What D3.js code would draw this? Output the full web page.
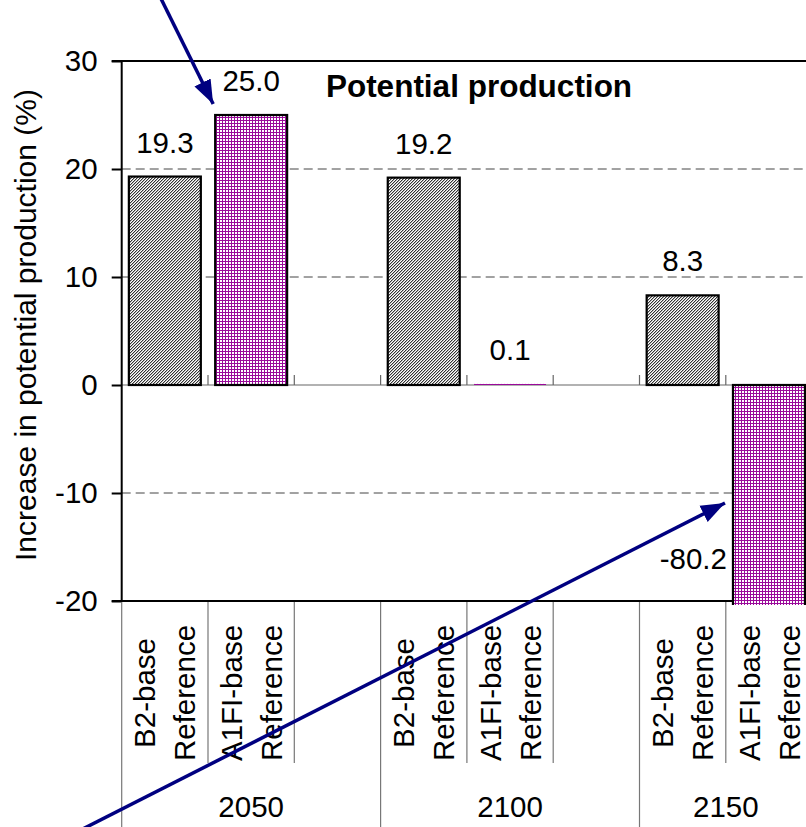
<!DOCTYPE html>
<html>
<head>
<meta charset="utf-8">
<script src="https://cdn.jsdelivr.net/npm/d3@7/dist/d3.min.js"></script>
<style>
  html, body { margin: 0; padding: 0; background: #fff; }
  svg { display: block; font-family: "Liberation Sans", Arial, sans-serif; }
</style>
</head>
<body>
<svg id="chart" width="806" height="827"></svg>
<script>
// Scenario results by year (percent change in potential production)
const years = ["2050", "2100", "2150"];
const scenarios = ["B2-base", "A1FI-base"];
const secondLine = "Reference";
const b2Values = [19.3, 19.2, 8.3];
const a1fiValues = [25.0, 0.1, -80.2];
const valueLabels = ["19.3", "19.2", "8.3", "25.0", "0.1", "-80.2"];
const yTicks = [-20, -10, 0, 10, 20, 30];
const chartTitle = "Potential production";
const yTitle = "Increase in potential production (%)";

// Each year holds two scenario slots; the first two years are followed by a spacer slot
const slots = [];
years.forEach((yr, gi) => {
  scenarios.forEach((sc, si) => {
    const v = si === 0 ? b2Values[gi] : a1fiValues[gi];
    const lbl = si === 0 ? valueLabels[gi] : valueLabels[3 + gi];
    slots.push({ id: yr + "|" + sc, year: yr, scenario: sc, value: v, label: lbl, kind: si });
  });
  if (gi < years.length - 1) slots.push({ id: yr + "|gap", year: yr, scenario: null });
});

const svg = d3.select("#chart");
const plot = { left: 121.7, top: 61, bottom: 601, step: 86.3 };
plot.right = plot.left + slots.length * plot.step;

const x = d3.scaleBand()
  .domain(slots.map(d => d.id))
  .range([plot.left, plot.right])
  .paddingInner(0.166)
  .paddingOuter(0.083);

const y = d3.scaleLinear().domain([-20, 30]).range([plot.bottom, plot.top]);

const slotLeft = i => plot.left + i * plot.step;

// Fill patterns
const defs = svg.append("defs");
const hatch = defs.append("pattern").attr("id", "hatchB2")
  .attr("patternUnits", "userSpaceOnUse").attr("width", 3).attr("height", 3);
hatch.append("rect").attr("width", 3).attr("height", 3).attr("fill", "#ffffff");
[[2,0],[1,1],[0,2]].forEach(([px, py]) =>
  hatch.append("rect").attr("x", px).attr("y", py).attr("width", 1).attr("height", 1).attr("fill", "#333333"));
[[0,0],[2,1],[1,2]].forEach(([px, py]) =>
  hatch.append("rect").attr("x", px).attr("y", py).attr("width", 1).attr("height", 1).attr("fill", "#b4b4b4"));

const grid = defs.append("pattern").attr("id", "gridA1FI")
  .attr("patternUnits", "userSpaceOnUse").attr("width", 3).attr("height", 3);
grid.append("rect").attr("width", 3).attr("height", 3).attr("fill", "#ffffff");
grid.append("rect").attr("width", 3).attr("height", 1).attr("fill", "#9a0a9a");
grid.append("rect").attr("width", 1).attr("height", 3).attr("fill", "#9a0a9a");

defs.append("clipPath").attr("id", "plotClip")
  .append("rect").attr("x", plot.left).attr("y", plot.top)
  .attr("width", plot.right - plot.left).attr("height", plot.bottom - plot.top + 4);

defs.append("marker").attr("id", "arrowHead")
  .attr("markerUnits", "userSpaceOnUse")
  .attr("markerWidth", 26).attr("markerHeight", 20)
  .attr("refX", 24).attr("refY", 10).attr("orient", "auto")
  .append("path").attr("d", "M0,1 L24,10 L0,19 Z").attr("fill", "#000080");

// Dashed gridlines
svg.append("g").selectAll("line")
  .data(yTicks.filter(t => t !== 0 && t !== -20 && t !== 30))
  .join("line")
  .attr("x1", plot.left).attr("x2", plot.right)
  .attr("y1", d => y(d)).attr("y2", d => y(d))
  .attr("stroke", "#444").attr("stroke-width", 1)
  .attr("stroke-dasharray", "9,5");

// Plot frame: top and bottom
svg.append("line").attr("x1", plot.left - 10).attr("x2", plot.right)
  .attr("y1", y(30)).attr("y2", y(30)).attr("stroke", "#000").attr("stroke-width", 2);
svg.append("line").attr("x1", plot.left - 10).attr("x2", plot.right)
  .attr("y1", y(-20)).attr("y2", y(-20)).attr("stroke", "#000").attr("stroke-width", 2);

// Zero line with slot tick marks
svg.append("line").attr("x1", plot.left).attr("x2", plot.right)
  .attr("y1", y(0)).attr("y2", y(0)).attr("stroke", "#666").attr("stroke-width", 1.2);
svg.append("g").selectAll("line").data(d3.range(1, slots.length + 1))
  .join("line")
  .attr("x1", i => slotLeft(i)).attr("x2", i => slotLeft(i))
  .attr("y1", y(0) - 10).attr("y2", y(0))
  .attr("stroke", "#666").attr("stroke-width", 1.2);

// Bars (a bar thinner than its outline is drawn without one)
const bars = slots.filter(d => d.scenario);
svg.append("g").attr("clip-path", "url(#plotClip)")
  .selectAll("rect").data(bars).join("rect")
  .attr("x", d => x(d.id))
  .attr("width", x.bandwidth())
  .attr("y", d => y(Math.max(0, d.value)))
  .attr("height", d => Math.abs(y(d.value) - y(0)))
  .attr("fill", d => d.kind === 0 ? "url(#hatchB2)" : "url(#gridA1FI)")
  .attr("stroke", d => Math.abs(y(d.value) - y(0)) < 3 ? "none" : "#000")
  .attr("stroke-width", 2.2);

// Y axis
const yAxis = svg.append("g").attr("transform", `translate(${plot.left},0)`)
  .call(d3.axisLeft(y).tickValues(yTicks).tickSize(10).tickPadding(14).tickFormat(d => String(d)));
yAxis.select(".domain").attr("stroke", "#000").attr("stroke-width", 2)
  .attr("d", `M0,${plot.top}V${plot.bottom}`);
yAxis.selectAll(".tick line").attr("stroke", "#000").attr("stroke-width", 2);
yAxis.selectAll(".tick text").attr("fill", "#000")
  .style("font-size", "29.5px").style("font-family", "'Liberation Sans', Arial, sans-serif");

// Value labels
svg.append("g").selectAll("text").data(bars).join("text")
  .attr("x", d => d.value >= 0 ? x(d.id) + x.bandwidth() / 2 : x(d.id) - 6)
  .attr("y", d => d.value >= 0 ? y(d.value) - 24 : y(-20) - 32)
  .attr("text-anchor", d => d.value >= 0 ? "middle" : "end")
  .style("font-size", "29.5px").attr("fill", "#000")
  .text(d => d.label);

// Title
svg.append("text").attr("x", 479).attr("y", 97)
  .attr("text-anchor", "middle").style("font-size", "31.5px").style("font-weight", "bold")
  .text(chartTitle);

// Y-axis title
svg.append("text").attr("transform", "translate(36,325) rotate(-90)")
  .attr("text-anchor", "middle").style("font-size", "30px")
  .text(yTitle);

// Category axis: dividers between slots and year groups
const groupStarts = [0];
slots.forEach((d, i) => { if (i > 0 && d.year !== slots[i - 1].year) groupStarts.push(i); });
const dividers = d3.range(0, slots.length + 1);
svg.append("g").selectAll("line").data(dividers).join("line")
  .attr("x1", i => slotLeft(i)).attr("x2", i => slotLeft(i))
  .attr("y1", plot.bottom + 1)
  .attr("y2", i => (groupStarts.includes(i) || i === slots.length) ? 827 : 763)
  .attr("stroke", "#777").attr("stroke-width", 1.2);

// Two-line rotated scenario labels
const catG = svg.append("g");
bars.forEach(d => {
  const cx = x(d.id) + x.bandwidth() / 2;
  [[d.scenario, -20], [secondLine, 20]].forEach(([txt, off]) => {
    catG.append("text")
      .attr("transform", `translate(${cx + off},693) rotate(-90)`)
      .attr("text-anchor", "middle").attr("dy", "0.36em")
      .style("font-size", "29.5px").text(txt);
  });
});

// Year labels centered under their groups
const groupEnds = groupStarts.slice(1).concat([slots.length]);
svg.append("g").selectAll("text").data(years).join("text")
  .attr("x", (d, i) => (slotLeft(groupStarts[i]) + slotLeft(groupEnds[i])) / 2)
  .attr("y", 817).attr("text-anchor", "middle")
  .style("font-size", "29.5px").text(d => d);

// Annotation arrows pointing at the highlighted scenario results
const a1 = bars.find(d => d.year === "2050" && d.kind === 1);
const a2 = bars.find(d => d.year === "2150" && d.kind === 1);
const arrows = [
  { tip: [x(a1.id) - 2, y(a1.value) - 11], from: [-52, -105] },
  { tip: [x(a2.id) - 8, y(-10) + 10], from: [-660, 335] }
];
svg.append("g").selectAll("line").data(arrows).join("line")
  .attr("x1", d => d.tip[0] + d.from[0]).attr("y1", d => d.tip[1] + d.from[1])
  .attr("x2", d => d.tip[0]).attr("y2", d => d.tip[1])
  .attr("stroke", "#000080").attr("stroke-width", 3.5)
  .attr("marker-end", "url(#arrowHead)");
</script>
</body>
</html>
